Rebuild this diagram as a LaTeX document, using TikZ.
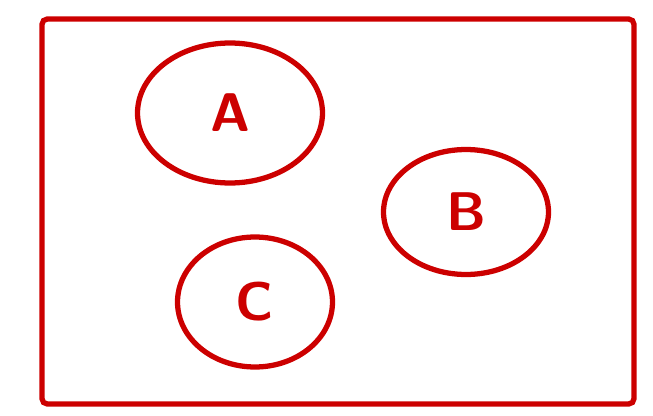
\documentclass[tikz,border=0pt]{standalone}
\usepackage{tikz}
\usetikzlibrary{shapes.geometric}
\definecolor{cSketchRed}{RGB}{204,0,0}

\begin{document}
\begin{tikzpicture}[x=0.02cm, y=-0.02cm,
    every node/.style={font=\fontsize{31}{36}\selectfont\sffamily\bfseries},
    setnode/.style={ellipse, draw=cSketchRed, text=cSketchRed, line width=3pt, inner sep=0pt}]
            \useasboundingbox (0,0) rectangle (653,416);

            % outer frame
            \draw[cSketchRed, line width=3pt, rounded corners=3pt] (42,19) rectangle (634,404);

            % the three sets
            \node[setnode, minimum width=3.7cm, minimum height=2.8cm] (setA) at (230,113) {A};
            \node[setnode, minimum width=3.3cm, minimum height=2.5cm] (setB) at (466,212) {B};
            \node[setnode, minimum width=3.1cm, minimum height=2.6cm] (setC) at (255,302) {C};
            \end{tikzpicture}
\end{document}
